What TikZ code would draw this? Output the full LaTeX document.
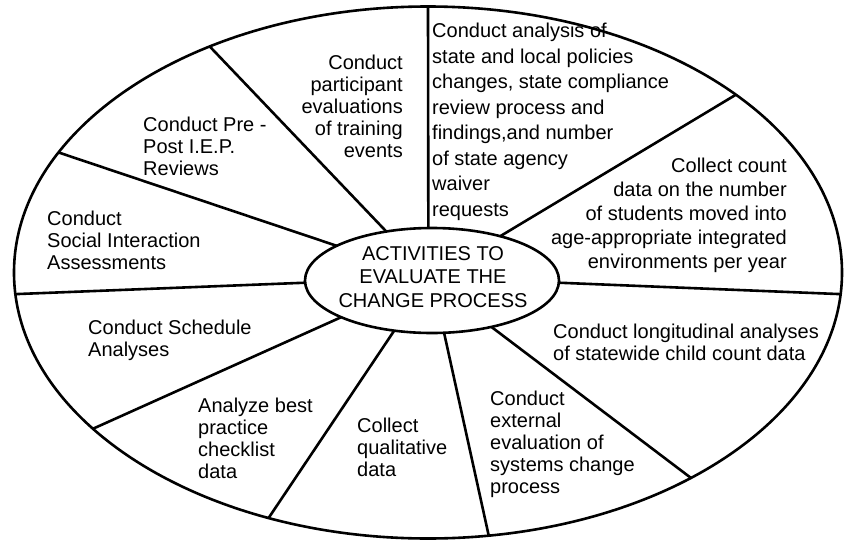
\documentclass[tikz,border=0pt]{standalone}
\usepackage{fontspec}
\setmainfont{Liberation Sans}
\usepackage{tikz}
\usetikzlibrary{shapes.geometric}
\tikzset{rim/.style={draw,ellipse,line width=2.6pt,inner sep=0pt,outer sep=0pt,minimum width=828pt,minimum height=532pt},
  hub/.style={draw,ellipse,line width=2.6pt,inner sep=0pt,outer sep=0pt,minimum width=254pt,minimum height=105pt},
  spoke/.style={line width=2.6pt},
  act/.style={inner sep=0pt,font=\fontsize{20}{22}\selectfont}}

\begin{document}
\begin{tikzpicture}[x=1pt,y=-1pt]
\useasboundingbox (0,0) rectangle (849,541);
\node[rim] (rim) at (428,272.5) {};
\node[hub] (hub) at (432,280.5) {};
\node[inner sep=0pt,align=center,font=\fontsize{20}{23.5}\selectfont] (title) at (433,277) {ACTIVITIES TO\\EVALUATE THE\\CHANGE PROCESS};
% spokes, hub to rim
\draw[spoke] (hub.94) -- (rim.90); \draw[spoke] (hub.33.8) -- (rim.30.7); \draw[spoke] (hub.-1) -- (rim.-3.1);
\draw[spoke] (hub.-38) -- (rim.-38.5); \draw[spoke] (hub.-77) -- (rim.-77); \draw[spoke] (hub.233.7) -- (rim.237.3);
\draw[spoke] (hub.202.4) -- (rim.205.6); \draw[spoke] (hub.181) -- (rim.183.5); \draw[spoke] (hub.160.3) -- (rim.162.6);
\draw[spoke] (hub.133) -- (rim.134.2);
% activities
\node[act,anchor=east,align=right] (train) at (403,106) {Conduct\\participant\\evaluations\\of training\\events};
\node[act,anchor=west,align=left,font=\fontsize{20}{25.5}\selectfont] (policy) at (432,122) {Conduct analysis of\\state and local policies\\changes, state compliance\\review process and\\findings,and number\\of state agency\\waiver\\requests};
\node[act,anchor=east,align=right,font=\fontsize{20}{24}\selectfont] (count) at (787,215) {Collect count\\data on the number\\of students moved into\\age-appropriate integrated\\environments per year};
\node[act,anchor=west,align=left] (longi) at (553,342) {Conduct longitudinal analyses\\of statewide child count data};
\node[act,anchor=west,align=left] (extern) at (490,444) {Conduct\\external\\evaluation of\\systems change\\process};
\node[act,anchor=west,align=left] (quali) at (357,447) {Collect\\qualitative\\data};
\node[act,anchor=west,align=left] (best) at (198,438) {Analyze best\\practice\\checklist\\data};
\node[act,anchor=west,align=left] (sched) at (88,340) {Conduct Schedule\\Analyses};
\node[act,anchor=west,align=left] (social) at (47,240) {Conduct\\Social Interaction\\Assessments};
\node[act,anchor=west,align=left] (iep) at (143,146) {Conduct Pre -\\Post I.E.P.\\Reviews};
\end{tikzpicture}
\end{document}
